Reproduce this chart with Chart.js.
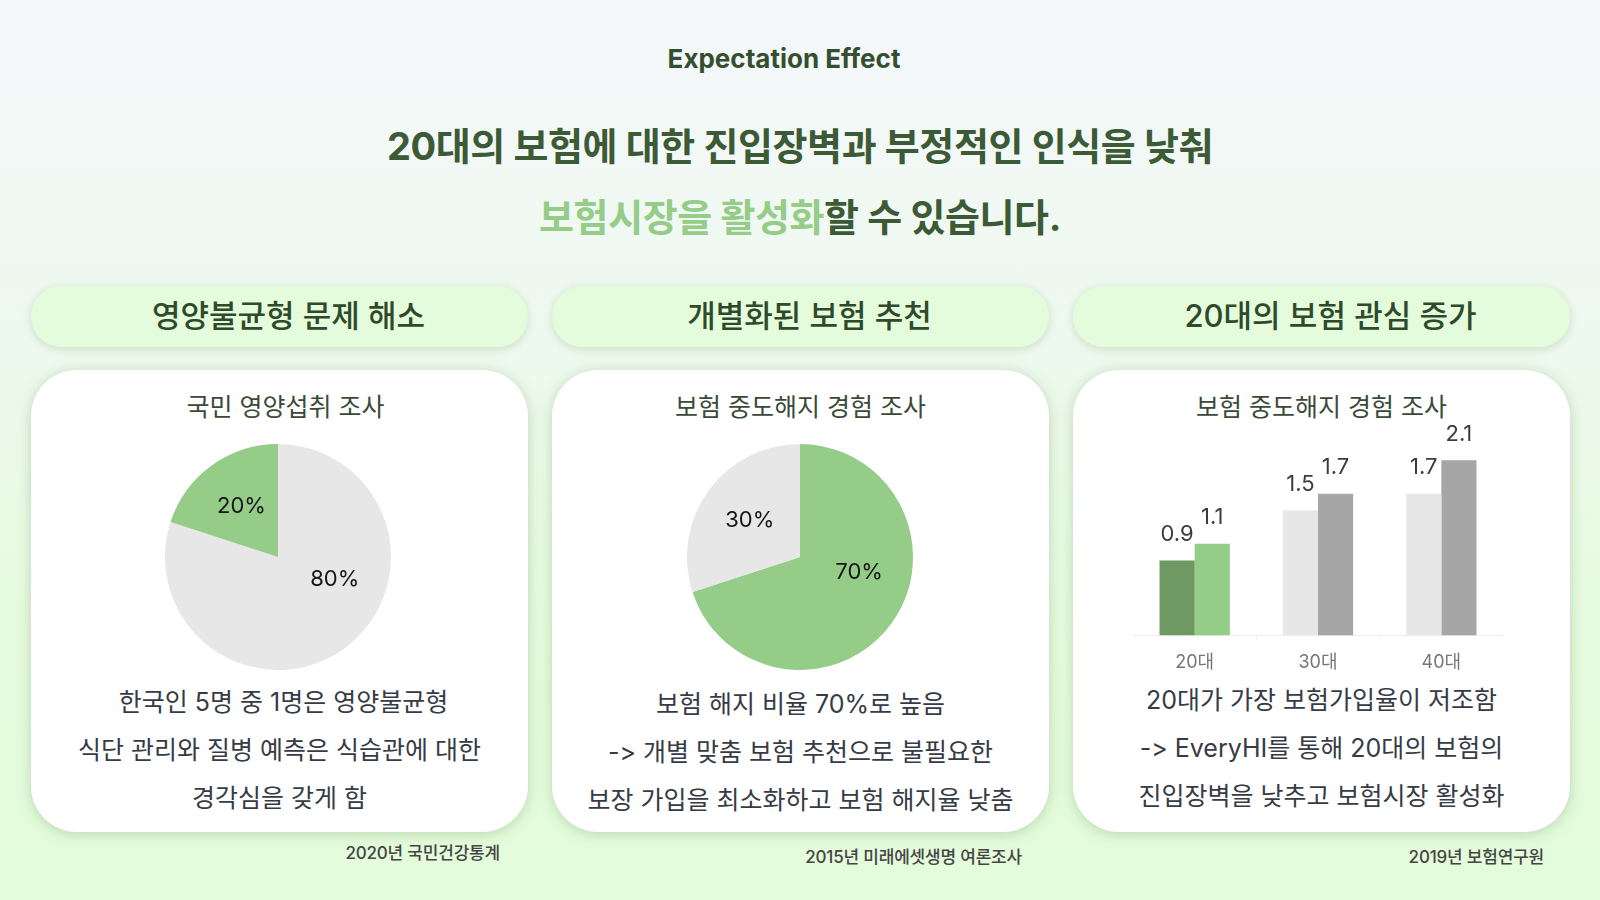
<!DOCTYPE html>
<html lang="ko">
<head>
<meta charset="utf-8">
<script src="https://cdn.jsdelivr.net/npm/chart.js@4.4.1/dist/chart.umd.min.js"></script>
<style>
  html,body{margin:0;padding:0;}
  body{width:1600px;height:900px;position:relative;overflow:hidden;
    font-family:Inter,"Noto Sans CJK KR",sans-serif;
    font-variant-ligatures:none;font-feature-settings:"calt" 0,"liga" 0;
    background:linear-gradient(180deg,#f5f7fb 0%,#eef9ef 35%,#e6fbde 70%,#e3fcda 100%);}
  .abs{position:absolute;}
  .center{text-align:center;white-space:nowrap;}
  .eyebrow{left:0;width:1568px;top:43px;line-height:32px;font-size:26px;font-weight:700;color:#344f30;letter-spacing:0;}
  .title{left:0;width:1600px;font-size:38px;font-weight:700;color:#3b5a35;letter-spacing:-0.4px;line-height:46px;}
  .hl{color:#95cc87;}
  .pill{top:286px;height:61px;width:497px;border-radius:31px;background:#e5fcdc;
    box-shadow:0 2px 10px rgba(120,150,110,0.28);display:flex;align-items:center;justify-content:center;
    font-size:31px;font-weight:500;color:#2f4a2b;letter-spacing:0;box-sizing:border-box;padding-left:18px;padding-bottom:6px;}
  .card{top:370px;height:462px;width:497px;border-radius:46px;background:#fff;
    box-shadow:0 2px 14px rgba(110,150,100,0.35);}
  .ctitle{font-size:25px;color:#3a4a37;line-height:30px;letter-spacing:0;}
  .body{font-size:25px;color:#363b45;line-height:30px;letter-spacing:0;}
  .src{font-size:17px;font-weight:500;color:#454545;line-height:20px;text-align:right;white-space:nowrap;letter-spacing:-0.2px;}
</style>
</head>
<body>
<script>
// ---- data ----
const pie1Labels = ['기타', '영양불균형'];
const pie1Values = [80, 20];
const pie2Labels = ['해지', '유지'];
const pie2Values = [70, 30];
const ageGroups = ['20대', '30대', '40대'];
const seriesA = [0.9, 1.5, 1.7];
const seriesB = [1.1, 1.7, 2.1];
</script>

<div class="abs center eyebrow">Expectation Effect</div>
<div class="abs center title" style="top:123px;">20대의 보험에 대한 진입장벽과 부정적인 인식을 낮춰</div>
<div class="abs center title" style="top:194px;"><span class="hl">보험시장을 활성화</span>할 수 있습니다.</div>

<div class="abs pill" style="left:31px;">영양불균형 문제 해소</div>
<div class="abs pill" style="left:552px;">개별화된 보험 추천</div>
<div class="abs pill" style="left:1073px;">20대의 보험 관심 증가</div>

<div class="abs card" style="left:31px;"></div>
<div class="abs card" style="left:552px;"></div>
<div class="abs card" style="left:1073px;"></div>

<div class="abs center ctitle" style="left:31px;width:497px;top:392px;padding-left:12px;box-sizing:border-box;">국민 영양섭취 조사</div>
<div class="abs center ctitle" style="left:552px;width:497px;top:392px;">보험 중도해지 경험 조사</div>
<div class="abs center ctitle" style="left:1073px;width:497px;top:392px;">보험 중도해지 경험 조사</div>

<div class="abs" style="left:165px;top:444px;width:226px;height:226px;"><canvas id="pie1"></canvas></div>
<div class="abs" style="left:687px;top:444px;width:226px;height:226px;"><canvas id="pie2"></canvas></div>
<div class="abs" style="left:1133px;top:397px;width:370px;height:288px;"><canvas id="bar"></canvas></div>

<div class="abs center body" style="left:31px;width:497px;top:687px;padding-left:8px;box-sizing:border-box;">한국인 5명 중 1명은 영양불균형</div>
<div class="abs center body" style="left:31px;width:497px;top:735px;">식단 관리와 질병 예측은 식습관에 대한</div>
<div class="abs center body" style="left:31px;width:497px;top:783px;">경각심을 갖게 함</div>

<div class="abs center body" style="left:552px;width:497px;top:689px;">보험 해지 비율 70%로 높음</div>
<div class="abs center body" style="left:552px;width:497px;top:737px;">-&gt; 개별 맞춤 보험 추천으로 불필요한</div>
<div class="abs center body" style="left:552px;width:497px;top:785px;">보장 가입을 최소화하고 보험 해지율 낮춤</div>

<div class="abs center body" style="left:1073px;width:497px;top:685px;">20대가 가장 보험가입율이 저조함</div>
<div class="abs center body" style="left:1073px;width:497px;top:733px;">-&gt; EveryHI를 통해 20대의 보험의</div>
<div class="abs center body" style="left:1073px;width:497px;top:781px;">진입장벽을 낮추고 보험시장 활성화</div>

<div class="abs src" style="right:1100px;top:843px;">2020년 국민건강통계</div>
<div class="abs src" style="right:578px;top:847px;">2015년 미래에셋생명 여론조사</div>
<div class="abs src" style="right:56px;top:847px;">2019년 보험연구원</div>

<script>
const FONT = 'Inter, "Noto Sans CJK KR", sans-serif';
const GREEN = '#95cc87', DARKGREEN = '#6f9963', LIGHTGRAY = '#e7e7e7', GRAY = '#a6a6a6';

// value labels inside pie slices; labels of slices wider than a half-turn
// are pulled toward the horizontal so they sit in the open part of the slice
const sliceLabels = {
  id: 'sliceLabels',
  afterDatasetsDraw(chart, args, opts) {
    const ctx = chart.ctx;
    const meta = chart.getDatasetMeta(0);
    const values = chart.data.datasets[0].data;
    ctx.save();
    ctx.font = opts.font;
    ctx.fillStyle = opts.color;
    ctx.textAlign = 'center';
    ctx.textBaseline = 'middle';
    meta.data.forEach((arc, i) => {
      const p = arc.getProps(['x', 'y', 'startAngle', 'endAngle', 'outerRadius'], true);
      let mid = (p.startAngle + p.endAngle) / 2;
      let ratio = opts.ratio;
      if (p.endAngle - p.startAngle > Math.PI) { mid = mid * opts.majorPull; ratio = opts.majorRatio; }
      const r = p.outerRadius * ratio;
      ctx.fillText(values[i] + '%', p.x + Math.cos(mid) * r, p.y + Math.sin(mid) * r);
    });
    ctx.restore();
  }
};

const barValues = {
  id: 'barValues',
  afterDatasetsDraw(chart, args, opts) {
    const ctx = chart.ctx;
    ctx.save();
    ctx.font = opts.font;
    ctx.fillStyle = opts.color;
    ctx.textAlign = 'center';
    ctx.textBaseline = 'bottom';
    chart.data.datasets.forEach((ds, di) => {
      chart.getDatasetMeta(di).data.forEach((bar, i) => {
        ctx.fillText(ds.data[i].toFixed(1), bar.x, bar.y - opts.gap);
      });
    });
    ctx.restore();
  }
};

function pie(id, labels, values, colors) {
  new Chart(document.getElementById(id), {
    type: 'pie',
    data: { labels: labels, datasets: [{ data: values, backgroundColor: colors, borderWidth: 0 }] },
    options: {
      responsive: true, maintainAspectRatio: false, animation: false,
      layout: { padding: 0 },
      plugins: {
        legend: { display: false }, tooltip: { enabled: false },
        sliceLabels: { font: '22px ' + FONT, color: '#151515', ratio: 0.55, majorPull: 0.4, majorRatio: 0.54 }
      }
    },
    plugins: [sliceLabels]
  });
}
pie('pie1', pie1Labels, pie1Values, [LIGHTGRAY, GREEN]);
pie('pie2', pie2Labels, pie2Values, [GREEN, LIGHTGRAY]);

new Chart(document.getElementById('bar'), {
  type: 'bar',
  data: {
    labels: ageGroups,
    datasets: [
      { data: seriesA, backgroundColor: [DARKGREEN, LIGHTGRAY, LIGHTGRAY], categoryPercentage: 0.57, barPercentage: 1 },
      { data: seriesB, backgroundColor: [GREEN, GRAY, GRAY], categoryPercentage: 0.57, barPercentage: 1 }
    ]
  },
  options: {
    responsive: true, maintainAspectRatio: false, animation: false,
    layout: { padding: { top: 30 } },
    plugins: {
      legend: { display: false }, tooltip: { enabled: false },
      barValues: { font: '22px ' + FONT, color: '#3c3c3c', gap: 15 }
    },
    scales: {
      x: {
        grid: { display: true, drawOnChartArea: false, drawTicks: true, tickLength: 4, color: '#eeeeee' },
        border: { display: true, color: '#eeeeee' },
        ticks: { color: '#777777', font: { size: 18, family: FONT }, padding: 12 }
      },
      y: { display: false, min: 0, max: 2.5 }
    }
  },
  plugins: [barValues]
});
</script>
</body>
</html>
